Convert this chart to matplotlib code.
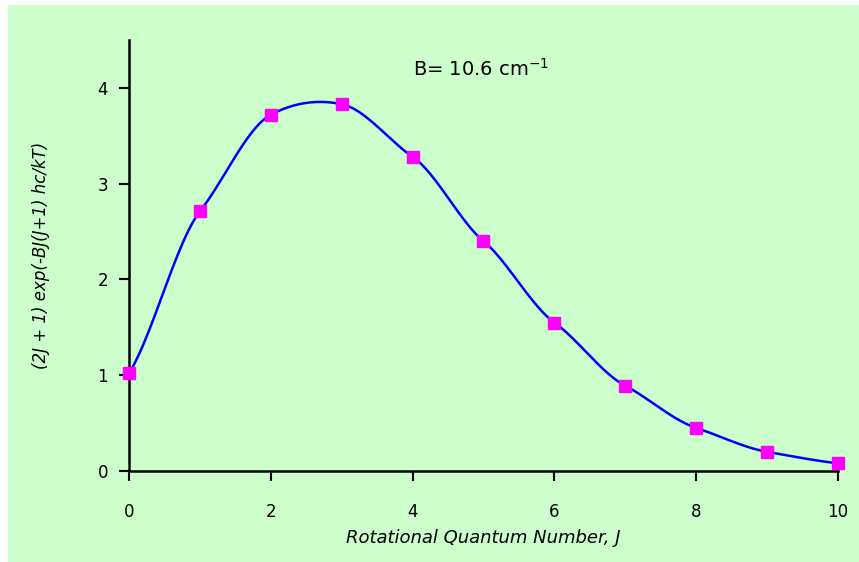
import numpy as np
import matplotlib
matplotlib.use("Agg")
import matplotlib.pyplot as plt
from matplotlib.patches import Rectangle

J = [0, 1, 2, 3, 4, 5, 6, 7, 8, 9, 10]
population = [1.02, 2.71, 3.72, 3.83, 3.28, 2.40, 1.55, 0.89, 0.45, 0.20, 0.08]
x_ticks = [0, 2, 4, 6, 8, 10]
y_ticks = [0, 1, 2, 3, 4]

GREEN = "#CCFFCC"

def smooth(xs, ys, n=25, c=0.7):
    # cardinal-spline smoothing of the polyline (drawing only)
    x = np.asarray(xs, float); y = np.asarray(ys, float)
    h = np.diff(x)
    m = np.zeros_like(y)
    m[1:-1] = c * (y[2:] - y[:-2]) / (x[2:] - x[:-2])
    m[0] = c * (y[1] - y[0]) / h[0]
    m[-1] = c * (y[-1] - y[-2]) / h[-1]
    ox, oy = [], []
    t = np.linspace(0, 1, n, endpoint=False)
    for i in range(len(x) - 1):
        h00 = 2*t**3 - 3*t**2 + 1; h10 = t**3 - 2*t**2 + t
        h01 = -2*t**3 + 3*t**2; h11 = t**3 - t**2
        ox.extend(x[i] + t*h[i])
        oy.extend(h00*y[i] + h10*h[i]*m[i] + h01*y[i+1] + h11*h[i]*m[i+1])
    ox.append(x[-1]); oy.append(y[-1])
    return np.array(ox), np.array(oy)

fig = plt.figure(figsize=(8.59, 5.62), dpi=100, facecolor="white")
bg = Rectangle((8/859, 0), 1, 1 - 5/562, transform=fig.transFigure,
               facecolor=GREEN, edgecolor="none", zorder=-10)
fig.patches.append(bg)
ax = fig.add_axes([129/859, 1 - 471/562, (838-129)/859, (471-40)/562])
ax.set_zorder(1)
ax.set_facecolor(GREEN)

sx, sy = smooth(J, population)
ax.plot(sx, sy, color="#0000FF", lw=1.8, zorder=2, clip_on=False)
ax.plot(J, population, linestyle="none", marker="s", markersize=8,
        color="#FF00FF", zorder=3, clip_on=False)

ax.set_xlim(0, 10)
ax.set_ylim(0, 4.5)
ax.set_xticks(x_ticks)
ax.set_yticks(y_ticks)
for s in ("top", "right"):
    ax.spines[s].set_visible(False)
for s in ("left", "bottom"):
    ax.spines[s].set_linewidth(1.8)
ax.tick_params(axis="both", direction="out", length=7, width=1.5, labelsize=12)
ax.tick_params(axis="x", pad=16)
ax.tick_params(axis="y", pad=8)

ax.set_xlabel("Rotational Quantum Number, J", fontsize=13, style="italic", labelpad=6)
ax.set_ylabel("(2J + 1) exp(-BJ(J+1) hc/kT)", fontsize=12, style="italic", labelpad=34)
ax.text(4.0, 4.2, "B= 10.6 cm$^{-1}$", fontsize=14, va="center", ha="left")

fig.savefig("out.png", dpi=100, facecolor=fig.get_facecolor())
